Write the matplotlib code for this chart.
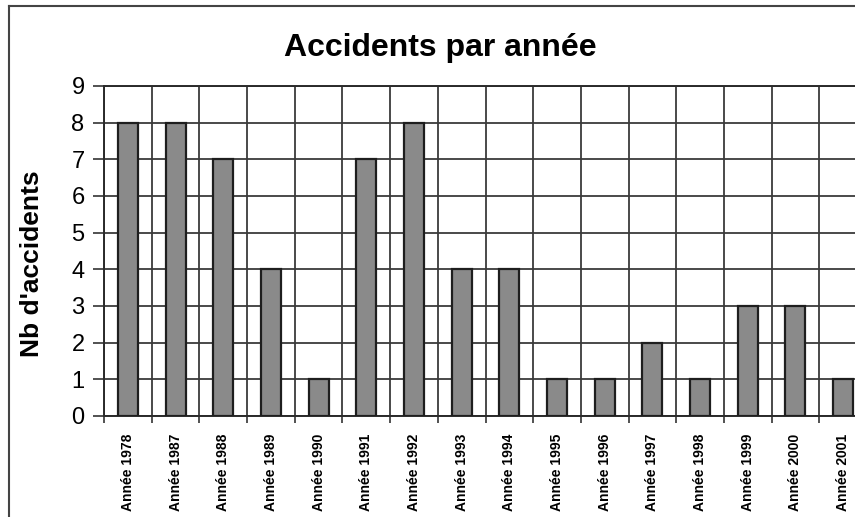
import matplotlib.pyplot as plt
from matplotlib.lines import Line2D
from matplotlib.ticker import MultipleLocator

plt.rcParams["font.family"] = ["Liberation Sans", "DejaVu Sans"]

# Data
annees = ["Année 1978", "Année 1987", "Année 1988", "Année 1989", "Année 1990",
          "Année 1991", "Année 1992", "Année 1993", "Année 1994", "Année 1995",
          "Année 1996", "Année 1997", "Année 1998", "Année 1999", "Année 2000",
          "Année 2001"]
accidents = [8, 8, 7, 4, 1, 7, 8, 4, 4, 1, 1, 2, 1, 3, 3, 1]

W, H = 855, 517
fig = plt.figure(figsize=(W / 100, H / 100), dpi=100)

# plot area runs past the right edge, like the cropped scan
ax = fig.add_axes([104 / W, 101 / H, (867 - 104) / W, 330 / H])

x = range(len(annees))
ax.bar(x, accidents, width=0.42, color="#8a8a8a", edgecolor="#1e1e1e",
       linewidth=1.6, zorder=3)

ax.set_xlim(-0.5, len(annees) - 0.5)
ax.set_ylim(0, 9)
ax.yaxis.set_major_locator(MultipleLocator(1))

# grid lines sit between categories, Excel style
ax.set_xticks(list(x))
ax.set_xticks([i + 0.5 for i in range(-1, len(annees))], minor=True)
ax.set_xticklabels(annees, rotation=90, fontsize=10, fontweight="bold",
                   va="top", ha="center")
ax.tick_params(axis="x", which="major", length=0, pad=13)
ax.tick_params(axis="x", which="minor", length=5, width=1.2, color="#333333",
               direction="out")
ax.tick_params(axis="y", length=8, width=1.2, color="#333333", labelsize=17,
               pad=6)

ax.grid(True, which="minor", axis="x", color="#3a3a3a", linewidth=1.3, zorder=0)
ax.grid(True, which="major", axis="y", color="#3a3a3a", linewidth=1.3, zorder=0)
ax.set_axisbelow(True)
for s in ax.spines.values():
    s.set_color("#2a2a2a")
    s.set_linewidth(1.4)

fig.text(440 / W, 1 - 48 / H, "Accidents par année", fontsize=23,
         fontweight="bold", ha="center", va="center")
fig.text(32 / W, 1 - 264 / H, "Nb d'accidents", fontsize=19, fontweight="bold",
         rotation=90, ha="center", va="center")

# frame of the scanned chart (top and left edges only are visible)
fig.add_artist(Line2D([9 / W, 1], [1 - 6 / H, 1 - 6 / H], color="#444444",
                      linewidth=1.5, transform=fig.transFigure))
fig.add_artist(Line2D([9 / W, 9 / W], [0, 1 - 6 / H], color="#444444",
                      linewidth=1.5, transform=fig.transFigure))

fig.savefig("out.png", dpi=100)
